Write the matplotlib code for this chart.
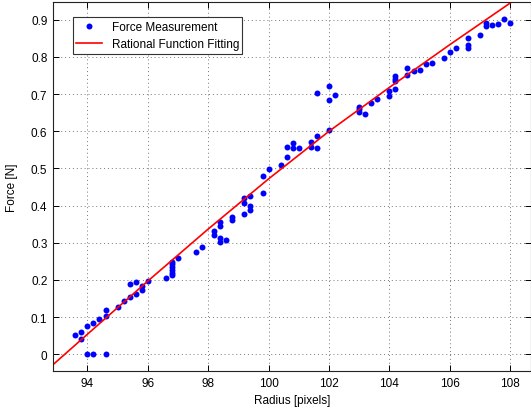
import matplotlib
matplotlib.use("Agg")
import matplotlib.pyplot as plt

# measured points (radius in pixels, force in N)
radius = [93.6, 93.8, 93.8, 94.0, 94.0, 94.2, 94.2, 94.4, 94.6, 94.6, 94.6,
          95.0, 95.2, 95.4, 95.4, 95.6, 95.6, 95.8, 95.8, 96.0, 96.6,
          96.8, 96.8, 96.8, 96.8, 96.8, 96.8, 97.0, 97.6, 97.8,
          98.2, 98.2, 98.4, 98.4, 98.4, 98.4, 98.6, 98.8, 98.8,
          99.2, 99.2, 99.2, 99.4, 99.4, 99.4, 99.8, 99.8, 100.0,
          100.4, 100.6, 100.6, 100.8, 100.8, 101.0, 101.4, 101.4,
          101.6, 101.6, 101.6, 102.0, 102.0, 102.0, 102.2,
          103.0, 103.0, 103.0, 103.2, 103.4, 103.6, 104.0, 104.0,
          104.2, 104.2, 104.2, 104.2, 104.6, 104.6, 104.8, 105.0,
          105.2, 105.4, 105.8, 106.0, 106.2, 106.6, 106.6, 106.6,
          107.0, 107.2, 107.2, 107.4, 107.6, 107.8, 108.0]
force = [0.052, 0.059, 0.042, 0.076, 0.002, 0.085, 0.0, 0.095, 0.118, 0.104, 0.0,
         0.128, 0.143, 0.155, 0.190, 0.194, 0.162, 0.183, 0.172, 0.198, 0.206,
         0.249, 0.242, 0.234, 0.226, 0.218, 0.213, 0.258, 0.274, 0.288,
         0.331, 0.322, 0.355, 0.344, 0.314, 0.301, 0.307, 0.370, 0.362,
         0.377, 0.407, 0.421, 0.398, 0.389, 0.425, 0.435, 0.479, 0.498,
         0.510, 0.530, 0.559, 0.568, 0.555, 0.554, 0.572, 0.558,
         0.588, 0.554, 0.703, 0.721, 0.684, 0.603, 0.697,
         0.666, 0.659, 0.651, 0.646, 0.675, 0.688, 0.708, 0.695,
         0.749, 0.742, 0.736, 0.715, 0.770, 0.751, 0.762, 0.765,
         0.780, 0.784, 0.797, 0.812, 0.824, 0.831, 0.825, 0.850,
         0.859, 0.890, 0.883, 0.886, 0.889, 0.901, 0.891]

# fitted curve
fit_radius = [92.86, 94, 96, 98, 100, 102, 104, 106, 108, 108.7]
fit_force = [-0.028, 0.054, 0.197, 0.337, 0.472, 0.600, 0.718, 0.833, 0.945, 0.984]

plt.rcParams['font.family'] = ['Liberation Sans', 'DejaVu Sans']

fig = plt.figure(figsize=(5.31, 4.14), dpi=100)
ax = fig.add_axes([0.0998, 0.1014, 0.9002, 0.8906])

ax.plot(radius, force, 'o', color='#0000ff', markersize=4.3, markeredgewidth=0,
        label='Force Measurement')
ax.plot(fit_radius, fit_force, '-', color='#ff0000', linewidth=1.2,
        label='Rational Function Fitting')

ax.set_xlim(92.86, 108.69)
ax.set_ylim(-0.045, 0.947)
ax.set_xticks([94, 96, 98, 100, 102, 104, 106, 108])
ax.set_yticks([0, 0.1, 0.2, 0.3, 0.4, 0.5, 0.6, 0.7, 0.8, 0.9])
ax.set_yticklabels(['0', '0.1', '0.2', '0.3', '0.4', '0.5', '0.6', '0.7', '0.8', '0.9'])

ax.grid(True, color='#777777', linestyle=(0, (1, 3)), linewidth=0.7)
ax.tick_params(direction='in', top=True, right=True, length=4, width=0.7,
               labelsize=8.5, pad=4)
for s in ax.spines.values():
    s.set_linewidth(0.8)
    s.set_color('#222222')

ax.set_xlabel('Radius [pixels]', fontsize=8.5, labelpad=4)
ax.set_ylabel('Force [N]', fontsize=8.5, labelpad=9)

leg = ax.legend(loc='upper left', bbox_to_anchor=(0.041, 0.959), borderaxespad=0,
                fontsize=8.5, fancybox=False, framealpha=1, edgecolor='#333333',
                handlelength=2.2, borderpad=0.3, labelspacing=0.45,
                handletextpad=0.8, numpoints=1)
leg.get_frame().set_linewidth(0.8)

fig.savefig('out.png', dpi=100)
